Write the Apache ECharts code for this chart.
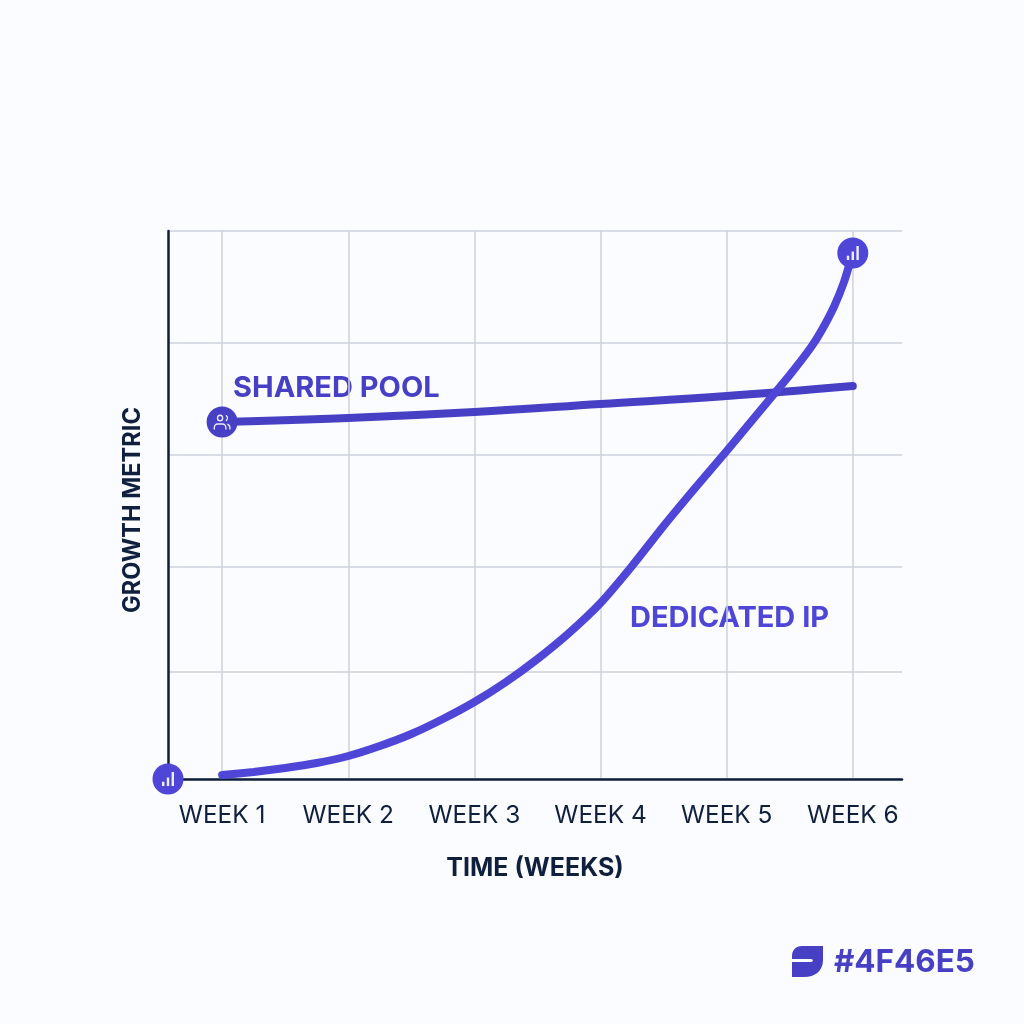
<!DOCTYPE html>
<html>
<head>
<meta charset="utf-8">
<style>
  html, body { margin: 0; padding: 0; background: #fafcff; }
  #chart { width: 1024px; height: 1024px; }
</style>
<script src="https://cdn.jsdelivr.net/npm/echarts@6/dist/echarts.min.js"></script>
</head>
<body>
<div id="chart"></div>
<script>
  const weekTicks = [1, 2, 3, 4, 5, 6];
  const weekLabels = ['WEEK 1', 'WEEK 2', 'WEEK 3', 'WEEK 4', 'WEEK 5', 'WEEK 6'];
  const metricTicks = [0, 107, 212, 324, 436, 548];
  const axisStartX = 0.571;
  const axisEndX = 6.39;
  const metricMax = 548;

  const sharedPoolX = [1, 2, 3, 4, 5, 6];
  const sharedPoolY = [357, 361, 367, 375, 383, 393];

  const dedicatedX = [1, 1.25, 1.5, 1.75, 2, 2.25, 2.5, 2.75, 3, 3.25, 3.5, 3.75, 4, 4.25, 4.5, 4.75, 5, 5.25, 5.5, 5.67, 5.75, 5.85, 5.93, 6];
  const dedicatedY = [4, 7, 11, 16, 23, 33, 45, 60, 77, 97, 120, 146, 176, 213, 253, 291, 328, 366, 404, 432, 448, 472, 497, 526];

  const accent = '#4f46d8';
  const accentDark = '#4840c4';
  const dark = '#0f1f3d';
  const gridGrey = '#cbd2dc';
  const barsIcon = 'path://M0 14h3v6H0zM6 8h3v12H6zM12 0h3v20h-3z';
  const usersIcon = 'path://M8 1a4 4 0 1 1 0 8a4 4 0 0 1 0-8zM8 2.6a2.4 2.4 0 1 0 0 4.8a2.4 2.4 0 0 0 0-4.8zM15 1.2a4 4 0 0 1 0 7.6v-1.7a2.3 2.3 0 0 0 0-4.2zM0 18v-2a5 5 0 0 1 5-5h6a5 5 0 0 1 5 5v2h-1.7v-2a3.3 3.3 0 0 0-3.3-3.3H5a3.3 3.3 0 0 0-3.3 3.3v2zM17 11.3a5 5 0 0 1 4 4.7v2h-1.7v-2a3.3 3.3 0 0 0-2.3-3z';
  const logoPath = 'M10 0H31V14C31 25 23 31 12 31H0V16H19C21.5 16 21.5 13 19 13H0V10C0 4 4 0 10 0z';
  const fontName = 'Inter';

  const zip = (xs, ys) => xs.map((x, i) => [x, ys[i]]);
  const iconSeries = (point, path, size, color) => [
    {
      type: 'scatter',
      data: [point],
      symbol: 'circle',
      symbolSize: 31,
      itemStyle: { color: color, opacity: 1 },
      clip: false,
      z: 5,
      silent: true
    },
    {
      type: 'scatter',
      data: [point],
      symbol: path,
      symbolSize: size,
      itemStyle: { color: '#ffffff', opacity: 0.9 },
      clip: false,
      z: 6,
      silent: true
    }
  ];

  const chart = echarts.init(document.getElementById('chart'));

  chart.setOption({
    animation: false,
    backgroundColor: '#fafcff',
    grid: { left: 168, right: 122, top: 231, bottom: 245 },
    xAxis: {
      type: 'value',
      min: axisStartX,
      max: axisEndX,
      name: 'TIME (WEEKS)',
      nameLocation: 'middle',
      nameGap: 77,
      nameTextStyle: { fontFamily: fontName, fontSize: 25, fontWeight: 700, color: dark },
      axisLine: { show: true, onZero: false, lineStyle: { color: dark, width: 2.5 } },
      axisTick: { show: false, customValues: weekTicks },
      axisLabel: {
        customValues: weekTicks,
        margin: 25,
        fontFamily: fontName,
        fontSize: 24.4,
        color: dark,
        formatter: (value) => weekLabels[weekTicks.indexOf(value)]
      },
      splitLine: { show: true, lineStyle: { color: gridGrey, width: 1.5 } }
    },
    yAxis: {
      type: 'value',
      min: 0,
      max: metricMax,
      name: 'GROWTH METRIC',
      nameLocation: 'middle',
      nameGap: 23,
      nameTextStyle: { fontFamily: fontName, fontSize: 23.6, fontWeight: 700, color: dark, padding: [0, 10, 0, 0] },
      axisLine: { show: true, lineStyle: { color: dark, width: 2.5 } },
      axisTick: { show: false, customValues: metricTicks },
      axisLabel: { show: false, customValues: metricTicks },
      splitLine: { show: true, lineStyle: { color: gridGrey, width: 1.5 } }
    },
    graphic: [
      { type: 'text', left: 233, top: 374, style: { text: 'SHARED POOL', fontFamily: fontName, fontSize: 29, fontWeight: 700, fill: accentDark } },
      { type: 'text', left: 630, top: 604, style: { text: 'DEDICATED IP', fontFamily: fontName, fontSize: 29, fontWeight: 700, fill: accent } },
      { type: 'text', left: 834, top: 947, style: { text: '#4F46E5', fontFamily: fontName, fontSize: 31.4, fontWeight: 700, fill: accentDark } }
    ],
    series: [
      {
        name: 'Shared Pool',
        type: 'line',
        data: zip(sharedPoolX, sharedPoolY),
        smooth: 0.4,
        symbol: 'none',
        lineStyle: { width: 8, color: accentDark, cap: 'round' },
        z: 3,
        silent: true
      },
      {
        name: 'Dedicated IP',
        type: 'line',
        data: zip(dedicatedX, dedicatedY),
        smooth: 0.2,
        symbol: 'none',
        lineStyle: { width: 8, color: accent, cap: 'round', join: 'round' },
        z: 4,
        silent: true
      },
      ...iconSeries([1, 357], usersIcon, [17, 15], accentDark),
      ...iconSeries([6, 526], barsIcon, [12, 14], accent),
      ...iconSeries([axisStartX, 0], barsIcon, [12, 14], accent),
      {
        // brand mark next to the hex code
        type: 'custom',
        coordinateSystem: 'none',
        data: [0],
        silent: true,
        renderItem: () => ({
          type: 'path',
          shape: { pathData: logoPath, x: 792, y: 946, width: 31, height: 31 },
          style: { fill: accentDark }
        })
      }
    ]
  });

  window.addEventListener('resize', () => chart.resize());
</script>
</body>
</html>
